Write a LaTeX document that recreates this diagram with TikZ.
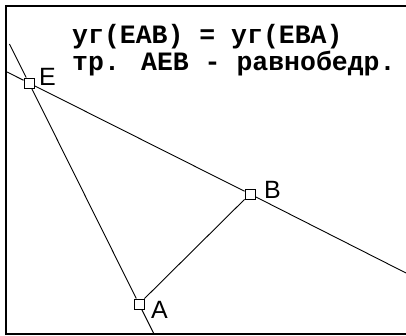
\documentclass[tikz,border=0pt]{standalone}
\usepackage{fontspec}
\setmainfont{Liberation Sans}
\newfontfamily\geomono{Liberation Mono}
\tikzset{
  geo frame/.style={draw=black, line width=1.8pt},
  geo line/.style={draw=black, line width=0.9pt},
  geo point/.style={rectangle, draw=black, fill=white, line width=0.9pt, minimum size=10pt, inner sep=0pt},
  geo label/.style={font=\fontsize{25}{25}\selectfont, text=black, inner sep=0pt, anchor=base west},
  geo note/.style={font=\geomono\bfseries\fontsize{26.5}{28}\selectfont, text=black, inner sep=0pt, anchor=base west},
}

\begin{document}
\begin{tikzpicture}[x=1pt, y=-1pt]
  \useasboundingbox (0,0) rectangle (406,336);

  % Frame
  \draw[geo frame] (406,6) -- (6,6) -- (6,334) -- (406,334);

  % Statement
  \node[geo note] (claim) at (72,44) {уг(EAB) = уг(EBA)};
  \node[geo note] (result) at (72,71) {тр. AEB - равнобедр.};

  % Points
  \node[geo point] (E) at (29,83) {};
  \node[geo point] (B) at (250,194) {};
  \node[geo point] (A) at (139,304) {};
  \node[geo label] (E label) at (39,86) {E};
  \node[geo label] (B label) at (264,199) {B};
  \node[geo label] (A label) at (151,318) {A};

  % Lines through the points
  \coordinate (ea top) at (9.4,44);
  \coordinate (ea bottom) at (154,334);
  \coordinate (eb left) at (7,72);
  \coordinate (eb right) at (406,273);
  \draw[geo line] (ea top) -- (E) -- (A) -- (ea bottom);
  \draw[geo line] (eb left) -- (E) -- (B) -- (eb right);
  \draw[geo line] (A) -- (B);
\end{tikzpicture}
\end{document}
